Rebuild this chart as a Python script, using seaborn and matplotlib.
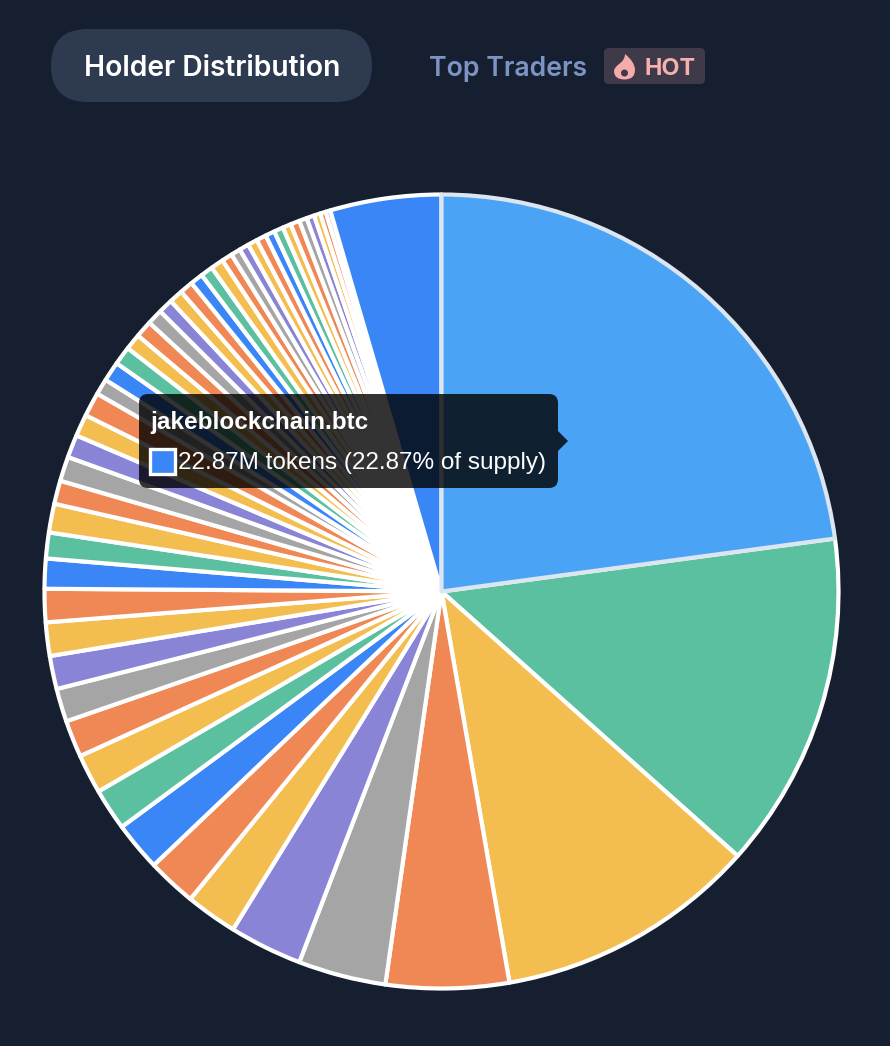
import numpy as np
import seaborn as sns
import matplotlib
matplotlib.use("Agg")
import matplotlib.pyplot as plt
from matplotlib.patches import FancyBboxPatch, PathPatch, Polygon, Rectangle
from matplotlib.path import Path

# share of supply per holder, % (clockwise from 12 o'clock)
holder_share = [22.87, 13.73, 10.66, 5.00, 3.57, 2.97, 2.10, 2.00, 2.00, 1.70,
                1.60, 1.50, 1.35, 1.35, 1.36, 1.35, 1.22, 1.05, 1.17, 0.95,
                1.00, 0.93, 0.89, 0.98, 0.65, 0.80, 0.75, 0.65, 0.69, 0.63,
                0.59, 0.56, 0.54, 0.52, 0.50, 0.52, 0.43, 0.39, 0.39, 0.39,
                0.40, 0.38, 0.38, 0.34, 0.37, 0.32, 0.31, 0.26, 0.23, 0.19, 4.52]
holder_color = ["hover", "green", "yellow", "orange", "gray", "purple",
                "yellow", "orange", "blue", "green", "yellow", "orange", "gray", "purple", "yellow", "orange",
                "blue", "green", "yellow", "orange", "gray", "purple", "yellow", "orange", "gray",
                "blue", "green", "yellow", "orange", "gray", "purple", "yellow", "orange",
                "blue", "green", "yellow", "orange", "gray", "purple", "yellow", "orange",
                "blue", "green", "yellow", "orange", "gray", "purple", "yellow", "orange", "gray",
                "blue"]
palette = {"hover": "#4BA3F6", "blue": "#3B86F7", "green": "#5AC0A0", "yellow": "#F4BD4F",
           "orange": "#EF8854", "gray": "#A5A5A5", "purple": "#8A84D6"}

tab_active = "Holder Distribution"
tab_other = "Top Traders"
badge_text = "HOT"
tooltip_title = "jakeblockchain.btc"
tooltip_text = "22.87M tokens (22.87% of supply)"

BG = "#161F30"
W, H = 890, 1046

sns.set_theme(style="white")
plt.rcParams["font.family"] = ["Inter", "Liberation Sans", "DejaVu Sans"]

fig = plt.figure(figsize=(W / 100, H / 100), dpi=100, facecolor=BG)

# pie axes placed so that the circle sits where it does in the screenshot
cx, cy, r = 441.5, 591.5, 397
ax = fig.add_axes([(cx - r) / W, 1 - (cy + r) / H, 2 * r / W, 2 * r / H])
ax.set_facecolor("none")
colors = sns.color_palette([palette[c] for c in holder_color])
wedges, _ = ax.pie(holder_share, colors=colors, startangle=90, counterclock=False, radius=1,
                   wedgeprops=dict(edgecolor="white", linewidth=3.0))
ax.set_xlim(-1, 1)
ax.set_ylim(-1, 1)
ax.axis("off")
for w in wedges:
    w.set_clip_on(False)
    w.set_joinstyle("round")
# hovered slice sits on top with a softer outline
wedges[0].set_edgecolor("#DCE6F0")
wedges[0].set_zorder(5)

# overlay in screen pixels for tabs and tooltip
ui = fig.add_axes([0, 0, 1, 1], zorder=10)
ui.set_xlim(0, W)
ui.set_ylim(H, 0)
ui.axis("off")
ui.patch.set_alpha(0)


def rounded(x0, y0, x1, y1, rad, **kw):
    ui.add_patch(FancyBboxPatch((x0 + rad, y0 + rad), x1 - x0 - 2 * rad, y1 - y0 - 2 * rad,
                                boxstyle=f"round,pad={rad},rounding_size={rad}", linewidth=0, **kw))


rounded(51, 29, 372, 102, 36.5, facecolor="#2D3A50")
ui.text(212, 69, tab_active, color="white", fontsize=20.3, fontweight="semibold", ha="center", va="center")
ui.text(508, 69, tab_other, color="#7C93C3", fontsize=19.2, fontweight="semibold", ha="center", va="center")

rounded(604, 48, 705, 84, 5, facecolor="#3E3A4A")
ui.text(670, 69, badge_text, color="#F5B0B0", fontsize=16.8, fontweight="bold", ha="center", va="center")
flame = Path([(625, 54), (625, 60), (619, 64), (614, 68), (614, 71), (614, 79.5), (624.5, 79.5),
              (635, 79.5), (635, 70), (635, 62), (625, 54)],
             [Path.MOVETO] + [Path.CURVE3] * 10)
ui.add_patch(PathPatch(flame, facecolor="#F5ABAB", linewidth=0))
ui.add_patch(plt.Circle((624.5, 73), 3.5, facecolor="#3E3A4A", linewidth=0))

# tooltip
rounded(139, 394, 558, 488, 9, facecolor="black", alpha=0.8)
ui.add_patch(Polygon([(558, 431), (568, 441), (558, 451)], facecolor="black", alpha=0.8, linewidth=0))
ui.text(150, 423, tooltip_title, color="white", fontsize=17.45, fontweight="bold",
        family="Liberation Sans", ha="left", va="center")
ui.add_patch(Rectangle((150, 448.5), 25, 25.5, facecolor=palette["blue"], edgecolor="white", linewidth=2.4))
ui.text(178, 463, tooltip_text, color="white", fontsize=17.5,
        family="Liberation Sans", ha="left", va="center")

fig.savefig("out.png", dpi=100, facecolor=BG)
